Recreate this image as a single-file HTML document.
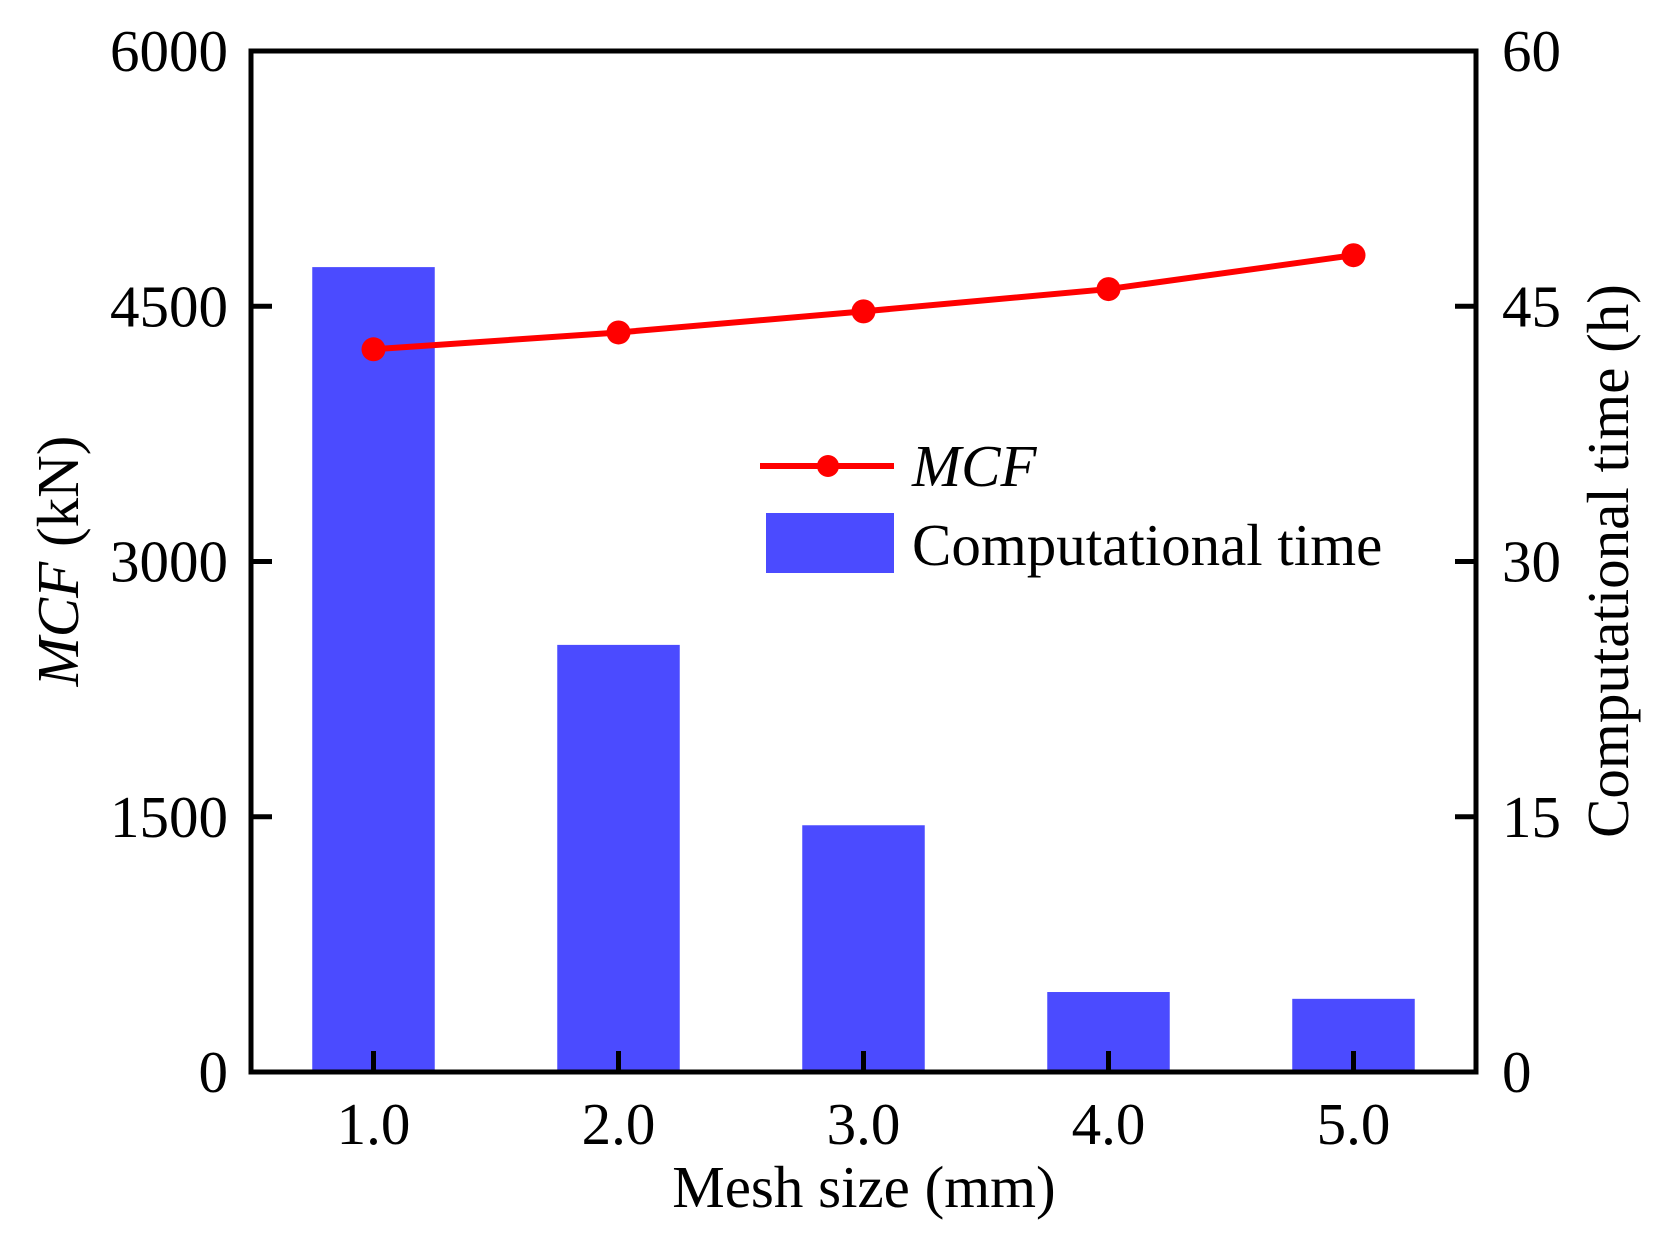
<!DOCTYPE html>
<html><head><meta charset="utf-8">
<style>
html,body{margin:0;padding:0;background:#fff;}
svg{display:block;}
text{font-family:"Liberation Serif",serif;fill:#000;}
</style></head>
<body>
<svg id="chart" width="1659" height="1237" viewBox="0 0 1659 1237" xmlns="http://www.w3.org/2000/svg">
<g id="bars"></g>
<g id="line"></g>
<g id="axes"></g>
<g id="legend">
  <line x1="760" y1="466" x2="894" y2="466" stroke="#ff0000" stroke-width="6"/>
  <circle cx="828" cy="466" r="11" fill="#ff0000"/>
  <text x="912" y="486" font-size="59" font-style="italic">MCF</text>
  <rect x="766" y="513" width="128" height="60" fill="#4b4bff"/>
  <text x="912" y="565" font-size="59">Computational time</text>
</g>
<text x="864" y="1207" font-size="59" text-anchor="middle">Mesh size (mm)</text>
<text transform="translate(78,561) rotate(-90)" font-size="59" text-anchor="middle"><tspan font-style="italic">MCF</tspan> (kN)</text>
<text transform="translate(1628,561) rotate(-90)" font-size="59" text-anchor="middle">Computational time (h)</text>
</svg>
<script>
const categories = ["1.0","2.0","3.0","4.0","5.0"];
const timeValues = [47.3, 25.1, 14.5, 4.7, 4.3];
const mcfValues = [4247, 4346, 4470, 4601, 4800];
const leftTicks = [0, 1500, 3000, 4500, 6000];
const rightTicks = [0, 15, 30, 45, 60];

const L=251, R=1476, T=51, B=1072;
const NS="http://www.w3.org/2000/svg";
const band=(R-L)/categories.length;
const x=i=>L+band*(i+0.5);
const yL=v=>B-(v/6000)*(B-T);
const yR=v=>B-(v/60)*(B-T);
function mk(tag,attrs,parent){const e=document.createElementNS(NS,tag);for(const k in attrs)e.setAttribute(k,attrs[k]);document.getElementById(parent).appendChild(e);return e;}

timeValues.forEach((v,i)=>{
  const r=mk('rect',{x:x(i)-band*0.25,y:yR(v),width:band*0.5,height:B-yR(v),fill:'#4b4bff'},'bars');
  
  
});
const pts=mcfValues.map((v,i)=>x(i)+','+yL(v)).join(' ');
const pl=mk('polyline',{points:pts,fill:'none',stroke:'#ff0000','stroke-width':6},'line');


mcfValues.forEach((v,i)=>{
  const c=mk('circle',{cx:x(i),cy:yL(v),r:12,fill:'#ff0000'},'line');
  
  
});
const fr=mk('rect',{x:L,y:T,width:R-L,height:B-T,fill:'none',stroke:'#000','stroke-width':5},'axes');


leftTicks.forEach(v=>{
  const y=yL(v);
  if(v>0&&v<6000){const t=mk('line',{x1:L,y1:y,x2:L+21,y2:y,stroke:'#000','stroke-width':5},'axes');
  
  }
  const tx=mk('text',{x:228,y:y+20,'font-size':59,'text-anchor':'end'},'axes');tx.textContent=v;
  
  
});
rightTicks.forEach(v=>{
  const y=yR(v);
  if(v>0&&v<60){const t=mk('line',{x1:R,y1:y,x2:R-21,y2:y,stroke:'#000','stroke-width':5},'axes');
  
  }
  const tx=mk('text',{x:1502,y:y+20,'font-size':59},'axes');tx.textContent=v;
  
  
});
categories.forEach((c,i)=>{
  const t=mk('line',{x1:x(i),y1:B,x2:x(i),y2:B-21,stroke:'#000','stroke-width':5},'axes');
  
  
  const tx=mk('text',{x:x(i),y:1144,'font-size':59,'text-anchor':'middle'},'axes');tx.textContent=c;
  
  
});
</script>
</body></html>
